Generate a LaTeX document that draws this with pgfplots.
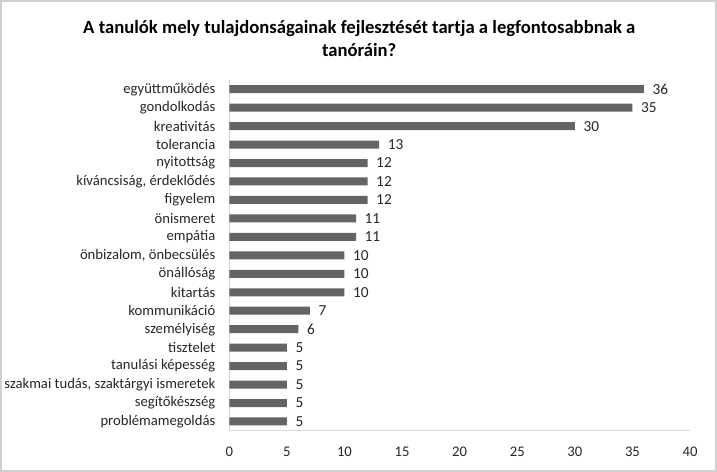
\documentclass[border=0pt]{standalone}
\usepackage{pgfplots}
\pgfplotsset{compat=1.18}
\usepackage{fontspec}
\setmainfont{Carlito}
\definecolor{barc}{HTML}{646464}
\definecolor{axc}{HTML}{D9D9D9}
\definecolor{framec}{HTML}{D0D0D0}
\definecolor{txt}{HTML}{262626}

\begin{document}
\begin{tikzpicture}
% frame of the chart area (1px = 0.75pt, 717x472 px)
\draw[framec, line width=1.2pt] (0.6pt,0.6pt) rectangle (537.15pt,353.4pt);
\node[font=\fontsize{14}{17.5}\selectfont\bfseries, align=center, text=black] at (269.25pt,325.1pt)
  {A tanulók mely tulajdonságainak fejlesztését tartja a legfontosabbnak a\\tanóráin?};
\begin{axis}[
  at={(171.75pt,30.75pt)}, anchor=south west,
  scale only axis,
  width=345.75pt, height=263.25pt,
  xmin=0, xmax=40,
  xtick={0,5,...,40},
  ymin=-0.5, ymax=18.5,
  ytick={0,...,18},
  yticklabels={problémamegoldás,segítőkészség,{szakmai tudás, szaktárgyi ismeretek},tanulási képesség,tisztelet,személyiség,kommunikáció,kitartás,önállóság,{önbizalom, önbecsülés},empátia,önismeret,figyelem,{kíváncsiság, érdeklődés},nyitottság,tolerancia,kreativitás,gondolkodás,együttműködés},
  axis lines=left,
  axis line style={axc, line width=0.8pt, -},
  major tick length=0pt,
  tick label style={font=\fontsize{11}{13}\selectfont, text=txt},
  /pgf/number format/assume math mode=true,
  xticklabel style={yshift=-9pt},
  yticklabel style={xshift=-7pt},
  xbar, bar width=6pt,
  nodes near coords,
  every node near coord/.append style={font=\fontsize{11.5}{13}\selectfont, text=txt, xshift=3pt},
  clip=false,
]
\addplot[fill=barc, draw=none] coordinates {
  (5,0) (5,1) (5,2) (5,3) (5,4) (6,5) (7,6) (10,7) (10,8) (10,9)
  (11,10) (11,11) (12,12) (12,13) (12,14) (13,15) (30,16) (35,17) (36,18)
};
\end{axis}
\end{tikzpicture}
\end{document}
